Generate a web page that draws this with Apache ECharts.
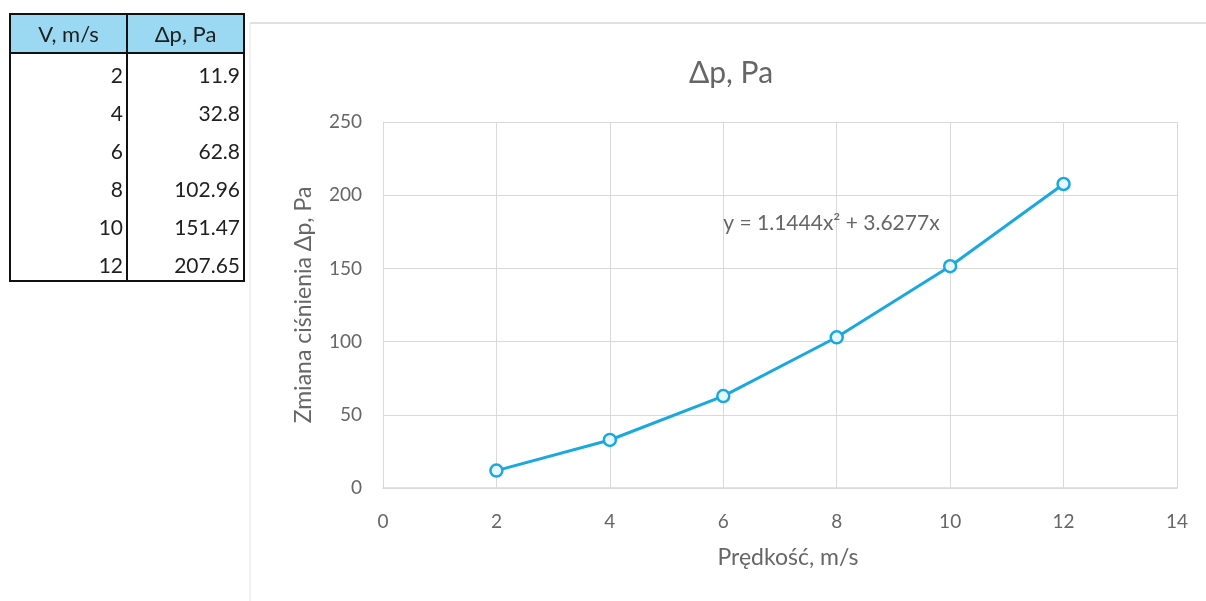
<!DOCTYPE html>
<html>
<head>
<meta charset="utf-8">
<title>Δp, Pa</title>
<script src="https://cdn.jsdelivr.net/npm/echarts@6/dist/echarts.min.js"></script>
<style>
  html, body { margin: 0; padding: 0; background: #ffffff; }
  #chart { width: 1206px; height: 601px; }
</style>
</head>
<body>
<div id="chart"></div>
<script>
// Measured velocity and pressure change
const velocity = [2, 4, 6, 8, 10, 12];
const pressureDrop = [11.9, 32.8, 62.8, 102.96, 151.47, 207.65];
const pressureText = ['11.9', '32.8', '62.8', '102.96', '151.47', '207.65'];
const tableHeaders = ['V, m/s', 'Δp, Pa'];

// Polynomial trendline coefficients (y = a·x² + b·x)
const trendA = 1.1444;
const trendB = 3.6277;

// Axis ranges
const xTicks = { min: 0, max: 14, interval: 2 };
const yTicks = { min: 0, max: 250, interval: 50 };

const FONT = 'Lato, "Open Sans", "DejaVu Sans", sans-serif';
const TEXT = '#666666';
const GRID = '#d9d9d9';
const LINE = '#1aa9de';

// Data table on the left, built from the arrays above
const tbl = { left: 10, mid: 127, right: 244, top: 14, headH: 39, rowH: 38 };
const tableGraphics = [];
const tableBottom = tbl.top + tbl.headH + tbl.rowH * velocity.length;
tableGraphics.push({
  type: 'rect',
  shape: { x: tbl.left, y: tbl.top, width: tbl.right - tbl.left, height: tbl.headH },
  style: { fill: '#9bd8f2' }
});
tableHeaders.forEach((h, i) => {
  const x0 = i === 0 ? tbl.left : tbl.mid;
  const x1 = i === 0 ? tbl.mid : tbl.right;
  tableGraphics.push({
    type: 'text',
    style: {
      text: h, x: (x0 + x1) / 2, y: tbl.top + tbl.headH / 2 + 1,
      align: 'center', verticalAlign: 'middle',
      font: '22px ' + FONT, fill: '#1f1f1f'
    }
  });
});
velocity.forEach((v, i) => {
  const yc = tbl.top + tbl.headH + tbl.rowH * i + 23;
  tableGraphics.push({
    type: 'text',
    style: { text: String(v), x: tbl.mid - 4, y: yc, align: 'right', verticalAlign: 'middle',
             font: '21px ' + FONT, fill: '#1f1f1f' }
  });
  tableGraphics.push({
    type: 'text',
    style: { text: pressureText[i], x: tbl.right - 4, y: yc, align: 'right', verticalAlign: 'middle',
             font: '21px ' + FONT, fill: '#1f1f1f' }
  });
});
// table borders
tableGraphics.push({
  type: 'rect',
  shape: { x: tbl.left, y: tbl.top, width: tbl.right - tbl.left, height: tableBottom - tbl.top },
  style: { fill: 'none', stroke: '#111', lineWidth: 2 }
});
tableGraphics.push({
  type: 'line',
  shape: { x1: tbl.left, y1: tbl.top + tbl.headH, x2: tbl.right, y2: tbl.top + tbl.headH },
  style: { stroke: '#111', lineWidth: 2 }
});
tableGraphics.push({
  type: 'line',
  shape: { x1: tbl.mid, y1: tbl.top, x2: tbl.mid, y2: tableBottom },
  style: { stroke: '#111', lineWidth: 2 }
});

// Chart-area frame and title
const frameGraphics = [
  { type: 'line', shape: { x1: 250, y1: 23, x2: 1206, y2: 23 }, style: { stroke: '#d6d6d6', lineWidth: 1.5 } },
  { type: 'line', shape: { x1: 250, y1: 23, x2: 250, y2: 601 }, style: { stroke: '#e4e4e4', lineWidth: 1 } },
  {
    type: 'text',
    style: { text: 'Δp, Pa', x: 731, y: 73, align: 'center', verticalAlign: 'middle',
             font: '30px ' + FONT, fill: TEXT }
  }
];

const trendLabel = 'y = ' + trendA.toFixed(4) + 'x² + ' + trendB.toFixed(4) + 'x';

const chart = echarts.init(document.getElementById('chart'), null, { renderer: 'canvas' });
chart.setOption({
  backgroundColor: '#ffffff',
  animation: false,
  textStyle: { fontFamily: FONT },
  grid: { left: 383, right: 29, top: 122, bottom: 113 },
  xAxis: {
    type: 'value',
    min: xTicks.min, max: xTicks.max, interval: xTicks.interval,
    name: 'Prędkość, m/s',
    nameLocation: 'middle',
    nameGap: 58,
    nameTextStyle: { color: TEXT, fontSize: 23, padding: [0, 0, 0, 16] },
    axisLine: { show: true, lineStyle: { color: GRID, width: 1.5 } },
    axisTick: { show: false },
    axisLabel: { color: TEXT, fontSize: 19, margin: 24 },
    splitLine: { show: true, lineStyle: { color: GRID, width: 1 } }
  },
  yAxis: {
    type: 'value',
    min: yTicks.min, max: yTicks.max, interval: yTicks.interval,
    name: 'Zmiana ciśnienia Δp, Pa',
    nameLocation: 'middle',
    nameGap: 68,
    nameRotate: 90,
    nameTextStyle: { color: TEXT, fontSize: 23 },
    axisLine: { show: false },
    axisTick: { show: false },
    axisLabel: { color: TEXT, fontSize: 19, margin: 21 },
    splitLine: { show: true, lineStyle: { color: GRID, width: 1 } }
  },
  series: [{
    type: 'line',
    data: velocity.map((v, i) => [v, pressureDrop[i]]),
    symbol: 'circle',
    symbolSize: 12,
    lineStyle: { color: LINE, width: 3 },
    itemStyle: { color: '#e6f8fd', borderColor: LINE, borderWidth: 2.5 },
    z: 3,
    markPoint: {
      symbol: 'circle',
      symbolSize: 0,
      silent: true,
      data: [{
        coord: [6, 181],
        label: {
          show: true, position: 'right', distance: 0,
          formatter: trendLabel, color: TEXT, fontSize: 21, fontFamily: FONT
        }
      }]
    }
  }],
  graphic: tableGraphics.concat(frameGraphics)
});
</script>
</body>
</html>
